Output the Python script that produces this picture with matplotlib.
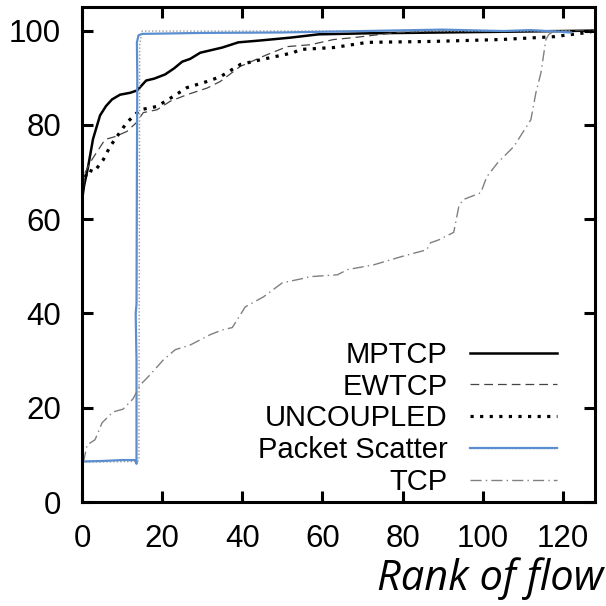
import matplotlib
matplotlib.use("Agg")
import matplotlib.pyplot as plt

plt.rcParams['font.family'] = ['Liberation Sans', 'DejaVu Sans']

# ---------------- data ----------------
mptcp_x = [0, 0.5, 1.5, 2.75, 4.5, 6, 7.5, 9.5, 12, 13.75, 16, 18, 20.75, 23, 25, 27,
           29.5, 32, 35, 39, 44.5, 52, 59, 70, 80, 90, 100, 110, 120, 128]
mptcp_y = [64, 67, 71, 77, 82, 84, 85.4, 86.4, 86.8, 87.3, 89.4, 89.8, 90.7, 92, 93.4, 94.0,
           95.3, 95.8, 96.4, 97.5, 97.9, 98.5, 99.2, 99.4, 99.5, 99.6, 99.7, 99.8, 99.9, 100]

ewtcp_x = [0, 0.75, 2, 5.75, 8.25, 11.2, 13.6, 15.3, 18.7, 22, 26.2, 31.2, 34.5, 39.5,
           46.2, 51.2, 57, 62.8, 67.7, 78.7, 90, 110, 128]
ewtcp_y = [64, 69.8, 72, 76.9, 77.5, 78.6, 80.5, 82.6, 83.2, 85, 86.4, 87.8, 89.2, 92.4,
           94.9, 96.6, 97.0, 98.1, 98.5, 99.6, 99.9, 100, 100]

uncoupled_x = [0, 1.5, 3, 5.3, 7, 8.7, 11.2, 14.5, 18.7, 22.7, 26.2, 31.2, 34.5, 39.5,
               44.5, 52.7, 54.5, 62.8, 71.2, 87.7, 104.5, 117.7, 126.2, 128]
uncoupled_y = [67, 70.5, 70.0, 72.6, 75.4, 77.5, 80.5, 83.2, 83.9, 86, 87.9, 89.2, 90.2, 92.8,
               93.8, 95.3, 96.0, 96.4, 97.5, 97.7, 98.1, 98.7, 99.6, 100]

scatter_x = [0, 6, 13.9, 14.2, 14.4, 15, 40, 80, 122]
scatter_y = [8.5, 8.5, 8.6, 9, 97, 99.9, 99.9, 99.9, 99.9]

# hand-drawn blue overlay on Packet Scatter
blue_x = [0, 5, 10, 13.3, 13.6, 13.6, 13.4, 13.6, 13.7, 13.8, 13.7, 14.1, 15, 30, 50, 70,
          90, 105, 112, 122]
blue_y = [8.6, 8.7, 8.9, 8.9, 8.1, 30, 40, 42, 70, 90, 97.5, 99, 99.3, 99.5, 99.6, 99.9,
          100.2, 99.9, 100.1, 99.6]

tcp_x = [0, 0.5, 1.25, 3.25, 5, 7.75, 10.25, 12.75, 14.5, 17, 20.25, 23.25, 27, 32, 35,
         37.5, 40.75, 45.25, 50, 54.5, 57, 63.75, 66.25, 72.75, 79.5, 86, 87, 89, 92.75,
         94, 95, 99.5, 101, 103.75, 107.75, 112, 113.25, 114.5, 115.75, 116.5, 118]
tcp_y = [8.5, 9, 12.1, 13.2, 16.8, 19.1, 19.7, 21.9, 24.8, 27, 30.1, 32.3, 33.3, 35.5, 36.5,
         37, 41.4, 43.5, 46.5, 47.3, 47.8, 48.2, 49.3, 50.3, 52, 53.5, 55, 55.6, 57.2,
         62.6, 64.1, 65.6, 69, 72, 75.4, 81.1, 86.8, 91, 98.1, 99.2, 100]

x_ticks = [0, 20, 40, 60, 80, 100, 120]
y_ticks = [0, 20, 40, 60, 80, 100]
labels = ['MPTCP', 'EWTCP', 'UNCOUPLED', 'Packet Scatter', 'TCP']

# ---------------- figure ----------------
fig = plt.figure(figsize=(6.06, 6.06), dpi=100)
ax = fig.add_axes([82/606, 1 - 502/606, (595-82)/606, (502-7)/606])

blue = '#5B8ED0'
l_mp, = ax.plot(mptcp_x, mptcp_y, color='black', lw=1.8)
l_ew, = ax.plot(ewtcp_x, ewtcp_y, color='#444444', lw=0.9, ls=(0, (7, 4)))
l_un, = ax.plot(uncoupled_x, uncoupled_y, color='black', lw=2.3, ls=(0, (1, 2)),
                dash_capstyle='butt')
l_ps, = ax.plot(scatter_x, scatter_y, color='#999999', lw=1.0, ls=(0, (1, 1.5)))
l_bl, = ax.plot(blue_x, blue_y, color=blue, lw=1.6)
l_tcp, = ax.plot(tcp_x, tcp_y, color='#808080', lw=1.0, ls=(0, (8, 3, 1, 3)))

ax.set_xlim(0, 128)
ax.set_ylim(0, 105)
ax.set_xticks(x_ticks)
ax.set_yticks(y_ticks)
ax.tick_params(direction='in', length=8, width=2.2, labelsize=22.5,
               top=True, right=True, labeltop=False, labelright=False)
ax.tick_params(axis='x', pad=16)
ax.tick_params(axis='y', pad=15)
for s in ax.spines.values():
    s.set_linewidth(2.2)

leg = ax.legend([l_mp, l_ew, l_un, (l_ps, l_bl), l_tcp], labels,
                loc='lower right', bbox_to_anchor=(0.926, 0.012), frameon=False,
                markerfirst=False, fontsize=21, handlelength=3.0,
                handletextpad=0.75, labelspacing=0.13, borderpad=0,
                borderaxespad=0)

fig.text(0.995, 0.026, 'Rank of flow', family=['Open Sans', 'DejaVu Sans'],
         style='italic', fontsize=30, ha='right', va='baseline')

fig.savefig('out.png', dpi=100)
